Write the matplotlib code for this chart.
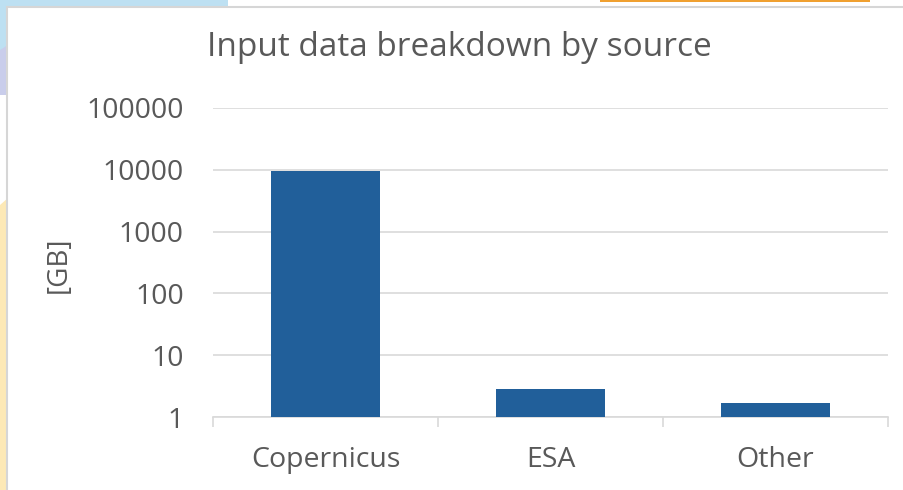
import matplotlib
matplotlib.use("Agg")
import matplotlib.pyplot as plt
from matplotlib.patches import Rectangle, Polygon
from matplotlib.ticker import FixedLocator, FixedFormatter

# data (GB, log scale)
sources = ["Copernicus", "ESA", "Other"]
sizes_gb = [9500, 2.8, 1.7]
y_ticks = [1, 10, 100, 1000, 10000, 100000]
y_tick_labels = ["1", "10", "100", "1000", "10000", "100000"]

plt.rcParams["font.family"] = ["Open Sans", "DejaVu Sans"]
text_grey = "#595959"
grid_grey = "#d9d9d9"
bar_blue = "#215f9a"

W, H = 904, 490
fig = plt.figure(figsize=(W / 100, H / 100), dpi=100)

# slide decorations behind the chart card
bg = fig.add_axes([0, 0, 1, 1], zorder=0)
bg.set_xlim(0, W)
bg.set_ylim(H, 0)
bg.axis("off")
bg.add_patch(Polygon([(0, 0), (228, 0), (228, 8), (8, 8), (8, 95), (0, 95)],
                     closed=True, color="#bde0f2", lw=0))
bg.add_patch(Polygon([(0, 50), (8, 45), (8, 95), (0, 95)],
                     closed=True, color="#c9cdeb", lw=0))
bg.add_patch(Polygon([(0, 205), (8, 198), (8, H), (0, H)],
                     closed=True, color="#fde9b6", lw=0))
bg.add_patch(Rectangle((600, 0), 270, 2, color="#f0a030", lw=0))
bg.add_patch(Rectangle((7, 7), W, H, facecolor="white",
                       edgecolor="#d6d6d6", lw=1.5))

ax = fig.add_axes([213 / W, 73 / H, 675 / W, 309 / H], zorder=1)
ax.patch.set_alpha(0)

x = range(len(sources))
ax.bar(x, sizes_gb, width=0.485, color=bar_blue, zorder=3)

ax.set_yscale("log")
ax.set_ylim(1, 100000)
ax.yaxis.set_major_locator(FixedLocator(y_ticks))
ax.yaxis.set_major_formatter(FixedFormatter(y_tick_labels))
ax.yaxis.set_minor_locator(FixedLocator([]))
ax.set_xlim(-0.5, len(sources) - 0.5)
ax.set_xticks(list(x))
ax.set_xticklabels(sources)
ax.set_xticks([-0.5, 0.5, 1.5, 2.5], minor=True)

ax.grid(axis="y", color=grid_grey, lw=1.2, zorder=0)
for s in ["top", "right", "left"]:
    ax.spines[s].set_visible(False)
ax.spines["bottom"].set_color(grid_grey)
ax.spines["bottom"].set_linewidth(1.2)

ax.tick_params(axis="y", length=0, pad=21, labelsize=20.5, labelcolor=text_grey)
ax.tick_params(axis="x", which="major", length=0, pad=21, labelsize=20.5,
               labelcolor=text_grey)
ax.tick_params(axis="x", which="minor", length=7, width=1.2, color=grid_grey)

fig.text(59 / W, 1 - 265 / H, "[GB]", rotation=90, ha="center", va="center",
         fontsize=20, color=text_grey)
fig.text(459 / W, 1 - 48 / H, "Input data breakdown by source",
         ha="center", va="center", fontsize=24, color=text_grey)

fig.savefig("out.png", dpi=100, facecolor="white")
